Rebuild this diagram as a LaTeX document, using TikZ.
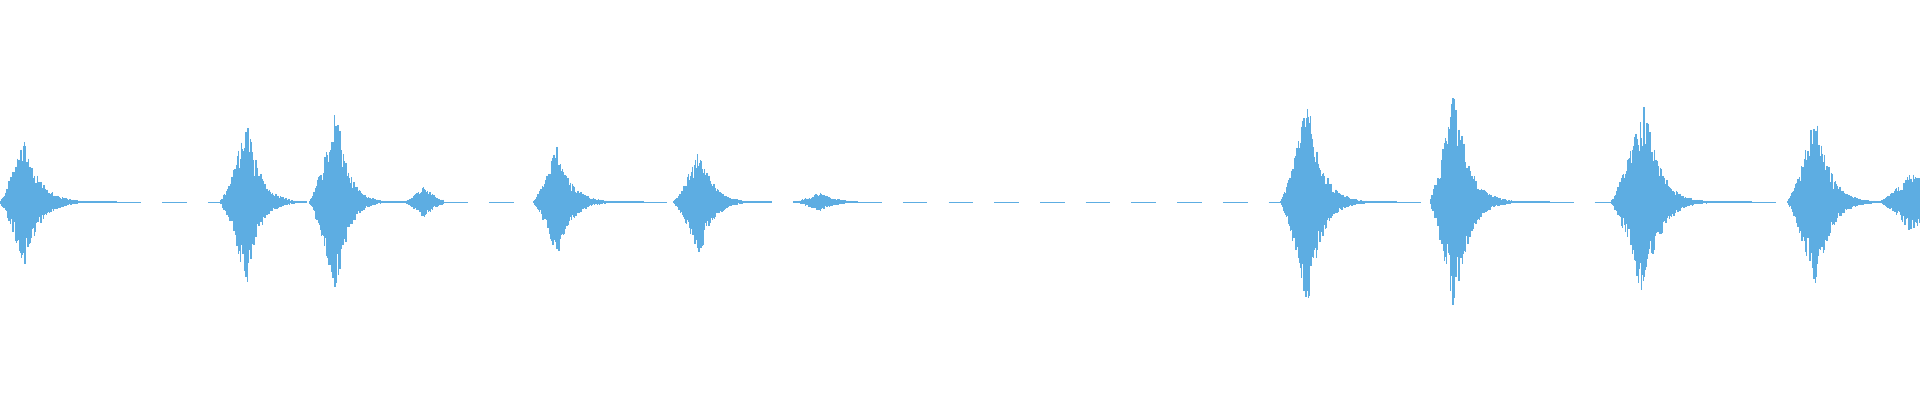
\documentclass[tikz,border=0pt]{standalone}
\definecolor{wavecol}{HTML}{5DADE2}
\tikzset{wave/.style={wavecol, line width=0.4pt},
    base/.style={wavecol, line width=0.3pt, dash pattern=on 7pt off 6pt}}
% start, peak, end, amplitude, decay
\newcommand{\burst}[5]{%
    \foreach \x in {#1,#1.5,...,#3}{%
        \pgfmathsetmacro{\env}{\x<#2 ? #4*((\x-#1+1)/(#2-#1+1))^1.3 : #4*exp(-(\x-#2)/#5)}%
        \pgfmathsetmacro{\up}{max(\env*(0.5+0.5*rnd),0.8)}%
        \pgfmathsetmacro{\dn}{max(\env*(0.5+0.5*rnd),0.8)}%
        \draw[wave] (\x,165-\up) -- (\x,165+\dn);}}
\begin{document}
\begin{tikzpicture}[x=0.012245cm, y=-0.012245cm]
    \pgfmathsetseed{7}

    % baseline gaps
    \draw[base] (95,165)--(180,165) (362,165)--(436,165) (525,165)--(550,165)
        (700,165)--(1046,165) (1140,165)--(1168,165) (1265,165)--(1316,165)
        (1430,165)--(1460,165);

    % bursts
    \burst{0}{20}{95}{55}{12}
    \burst{180}{202}{250}{70}{10}
    \burst{253}{275}{330}{80}{9}
    \burst{330}{347}{362}{14}{8}
    \burst{436}{455}{525}{48}{11}
    \burst{550}{572}{630}{46}{10}
    \burst{648}{670}{700}{8}{12}
    \burst{1046}{1068}{1140}{88}{11}
    \burst{1168}{1188}{1265}{95}{11}
    \burst{1316}{1343}{1430}{85}{12}
    \burst{1460}{1483}{1535}{75}{11}
    \burst{1535}{1560}{1568}{25}{30}

    \pgfresetboundingbox
    \useasboundingbox (0,0) rectangle (1568,326.7);
\end{tikzpicture}
\end{document}
